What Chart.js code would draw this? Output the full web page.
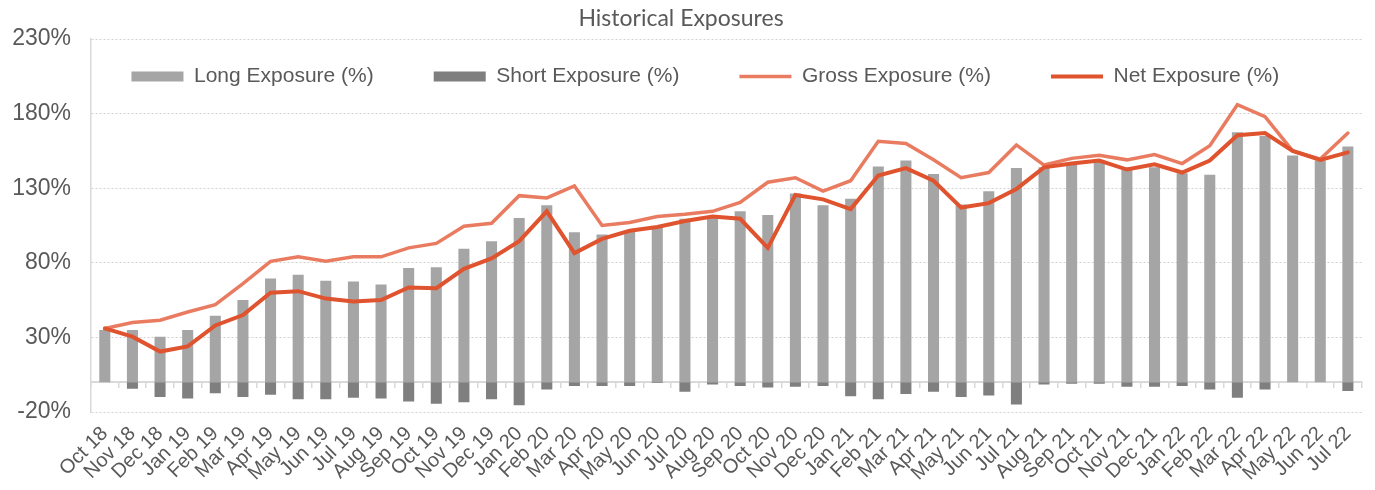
<!DOCTYPE html>
<html>
<head>
<meta charset="utf-8">
<script src="https://cdn.jsdelivr.net/npm/chart.js@4/dist/chart.umd.min.js"></script>
<style>
  html, body { margin: 0; padding: 0; background: #ffffff; }
</style>
</head>
<body>
<canvas id="chart" width="1375" height="490"></canvas>
<script>
// months on the x axis
const months = [
  'Oct 18', 'Nov 18', 'Dec 18',
  'Jan 19', 'Feb 19', 'Mar 19', 'Apr 19', 'May 19', 'Jun 19', 'Jul 19', 'Aug 19', 'Sep 19', 'Oct 19', 'Nov 19', 'Dec 19',
  'Jan 20', 'Feb 20', 'Mar 20', 'Apr 20', 'May 20', 'Jun 20', 'Jul 20', 'Aug 20', 'Sep 20', 'Oct 20', 'Nov 20', 'Dec 20',
  'Jan 21', 'Feb 21', 'Mar 21', 'Apr 21', 'May 21', 'Jun 21', 'Jul 21', 'Aug 21', 'Sep 21', 'Oct 21', 'Nov 21', 'Dec 21',
  'Jan 22', 'Feb 22', 'Mar 22', 'Apr 22', 'May 22', 'Jun 22', 'Jul 22'
];

// exposures in %
const longExp = [35, 35, 30.5, 35, 44.5, 55, 69.5, 72, 68, 67.5, 65.5, 76.5, 77, 89.5, 94.5,
  110, 118.5, 100.5, 99, 101.5, 104, 109.5, 111, 114.5, 112, 126.5, 118.5,
  123, 144.5, 148.5, 139.5, 119, 128, 143.5, 144, 146.5, 148.5, 144, 144,
  140, 139, 167.5, 165, 152, 148.5, 158];
const shortExp = [0, -4.5, -10, -11, -7.5, -10, -8.5, -11.5, -11.5, -10.5, -11, -13, -14.5, -13.5, -11.5,
  -15.5, -5, -2.5, -2.5, -2.5, -0.5, -6.5, -1.5, -2.5, -3.5, -3, -2.5,
  -9.5, -11.5, -8, -6.5, -10, -9, -15, -1.5, -1, -1, -3, -3,
  -2.5, -5, -10.5, -5, 0, 0, -6];
const grossExp = [36, 40, 41.5, 47, 52, 66, 81, 84, 81, 84, 84, 90, 93, 104.5, 106.5,
  125, 123.5, 131.5, 105, 107, 111, 112.5, 114.5, 120.5, 134, 137, 128,
  135, 161.5, 160, 149, 137, 140.5, 159, 145.5, 150, 152, 149, 152.5,
  146.5, 158.5, 186, 178, 155, 149.5, 167];
const netExp = [36, 30.5, 20.5, 24, 38, 45, 60, 61, 56, 54, 55, 63.5, 63, 76, 83,
  94.5, 114.5, 86.5, 96, 101.5, 104, 108, 111, 109.5, 90, 125.5, 122.5,
  116, 138.5, 143.5, 135, 117, 120, 129.5, 144, 146.5, 148.5, 142.5, 146,
  140.5, 148.5, 165.5, 167, 155, 149, 154];

const yTicks = [-20, 30, 80, 130, 180, 230];

const textGrey = '#595959';
const lineGrey = '#D9D9D9';
const sans = '"Liberation Sans", Arial, sans-serif';

// legend floats in the plot as one row, a little left of centre
const legendPlace = {
  id: 'legendPlace',
  beforeLayout(chart) {
    if (chart.legend) chart.legend.isHorizontal = () => true;
  },
  afterLayout(chart) {
    const lg = chart.legend;
    const area = chart.chartArea;
    lg.left = area.left - 42;
    lg.right = area.right;
    lg.top = area.top + 27 - lg.options.labels.padding;
  }
};

new Chart(document.getElementById('chart').getContext('2d'), {
  type: 'bar',
  data: {
    labels: months,
    datasets: [
      {
        label: 'Long Exposure (%)',
        data: longExp,
        backgroundColor: '#A5A5A5',
        grouped: false,
        barPercentage: 0.4,
        categoryPercentage: 1,
        order: 3
      },
      {
        label: 'Short Exposure (%)',
        data: shortExp,
        backgroundColor: '#7F7F7F',
        grouped: false,
        barPercentage: 0.4,
        categoryPercentage: 1,
        order: 2
      },
      {
        type: 'line',
        label: 'Gross Exposure (%)',
        data: grossExp,
        borderColor: '#E97C60',
        backgroundColor: '#E97C60',
        borderWidth: 3.5,
        borderCapStyle: 'round',
        pointRadius: 0,
        tension: 0,
        order: 1
      },
      {
        type: 'line',
        label: 'Net Exposure (%)',
        data: netExp,
        borderColor: '#E0532F',
        backgroundColor: '#E0532F',
        borderWidth: 4,
        borderCapStyle: 'round',
        pointRadius: 0,
        tension: 0,
        order: 0
      }
    ]
  },
  options: {
    responsive: false,
    maintainAspectRatio: false,
    animation: false,
    layout: { padding: { right: 13 } },
    plugins: {
      title: {
        display: true,
        text: 'Historical Exposures',
        color: textGrey,
        font: { family: 'Lato', size: 23, weight: 'normal' },
        padding: { top: 5, bottom: 6.4 }
      },
      legend: {
        position: 'chartArea',
        labels: {
          color: textGrey,
          font: { family: sans, size: 21 },
          usePointStyle: true,
          pointStyleWidth: 52,
          boxHeight: 10,
          padding: 60,
          generateLabels(chart) {
            const items = Chart.defaults.plugins.legend.labels.generateLabels(chart);
            items.forEach((it) => {
              const ds = chart.data.datasets[it.datasetIndex];
              it.pointStyle = ds.type === 'line' ? 'line' : 'rect';
            });
            return items.sort((a, b) => a.datasetIndex - b.datasetIndex);
          }
        }
      },
      tooltip: { enabled: false }
    },
    scales: {
      x: {
        position: 'bottom',
        grid: { display: false, drawTicks: false },
        border: { display: false },
        ticks: {
          color: textGrey,
          font: { family: sans, size: 20 },
          autoSkip: false,
          maxRotation: 45,
          minRotation: 45,
          padding: 10
        },
        afterFit(scale) { scale.height = 78; }
      },
      // axis line through 0 with little tick marks, no labels
      x0: {
        type: 'category',
        position: { y: 0 },
        offset: true,
        grid: { offset: true, drawOnChartArea: false, drawTicks: true, tickLength: 5, color: lineGrey, lineWidth: 1.5 },
        border: { display: true, color: lineGrey, width: 2 },
        ticks: { display: false }
      },
      y: {
        min: -20,
        max: 230,
        afterBuildTicks(scale) { scale.ticks = yTicks.map((v) => ({ value: v })); },
        grid: { color: '#D0D0D0', lineWidth: 1, drawTicks: false },
        border: { display: true, color: lineGrey, width: 1.5, dash: [2, 2] },
        ticks: {
          color: textGrey,
          font: { family: sans, size: 23 },
          padding: 20,
          callback: (v) => v + '%'
        },
        afterFit(scale) { scale.width = 91; }
      }
    }
  },
  plugins: [legendPlace]
});
</script>
</body>
</html>
